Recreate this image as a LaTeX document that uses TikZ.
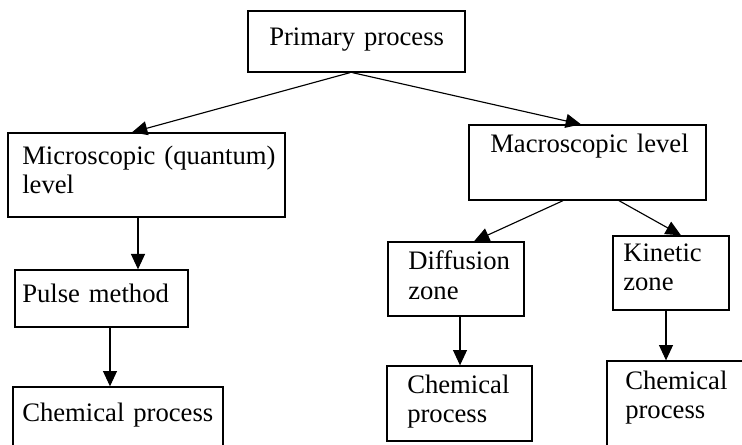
\documentclass[tikz,border=0pt]{standalone}
\usepackage{fontspec}
\setmainfont{Liberation Serif}
\usetikzlibrary{arrows.meta,fit,calc}
\tikzset{
  box/.style={draw=black, line width=1pt, inner sep=0pt, fit={#1}},
  lbl/.style={anchor=base west, inner sep=0pt, align=left, text width=200pt,
    font=\fontsize{20}{21.75}\selectfont},
  conn/.style={line width=0.85pt, -{Triangle[length=11.5pt,width=10.5pt]}}
}
\begin{document}
\begin{tikzpicture}[x=0.75pt,y=-0.75pt]
\useasboundingbox (0,0) rectangle (742,445);
\clip (0,0) rectangle (742,445);
\fill[white] (0,0) rectangle (742,445);
% boxes
\node[box={(248,11) (465,72)}] (prim) {};
\node[box={(8,133) (285,217)}] (micro) {};
\node[box={(469,125) (706,200)}] (macro) {};
\node[box={(15,270) (188,327)}] (pulse) {};
\node[box={(13,387) (223,470)}] (chemL) {};
\node[box={(388,242) (524,316)}] (diff) {};
\node[box={(613,236) (729,310)}] (kin) {};
\node[box={(387,366) (532,441)}] (chemM) {};
\node[box={(607,361) (760,470)}] (chemR) {};
% texts
\node[lbl] (primT) at (269,46) {Primary process};
\node[lbl] (microT) at (22,165) {Microscopic (quantum)\\level};
\node[lbl] (macroT) at (490,153) {Macroscopic level};
\node[lbl] (pulseT) at (22,302) {Pulse method};
\node[lbl] (chemLT) at (22,421) {Chemical process};
\node[lbl] (diffT) at (408,270) {Diffusion\\zone};
\node[lbl] (kinT) at (623,262) {Kinetic\\zone};
\node[lbl] (chemMT) at (407,393) {Chemical\\process};
\node[lbl] (chemRT) at (625,389) {Chemical\\process};
% connectors
\draw[conn] ($(prim.south)+(-6.5,0)$) -- ($(micro.north)+(-14.5,0)$);
\draw[conn] ($(prim.south)+(-4,0)$) -- ($(macro.north)+(-6.5,0)$);
\draw[conn] ($(micro.south)+(-8.5,0)$) -- ($(pulse.north)+(36.5,0)$);
\draw[conn] ($(pulse.south)+(8.5,0)$) -- ($(chemL.north)+(-8,0)$);
\draw[conn] ($(macro.south)+(-24.5,0)$) -- ($(diff.north)+(18,0)$);
\draw[conn] ($(macro.south)+(31.5,0)$) -- ($(kin.north)+(10,0)$);
\draw[conn] ($(diff.south)+(4,0)$) -- ($(chemM.north)+(0.5,0)$);
\draw[conn] ($(kin.south)+(-5,0)$) -- ($(chemR.north)+(-17.5,0)$);
\end{tikzpicture}
\end{document}
